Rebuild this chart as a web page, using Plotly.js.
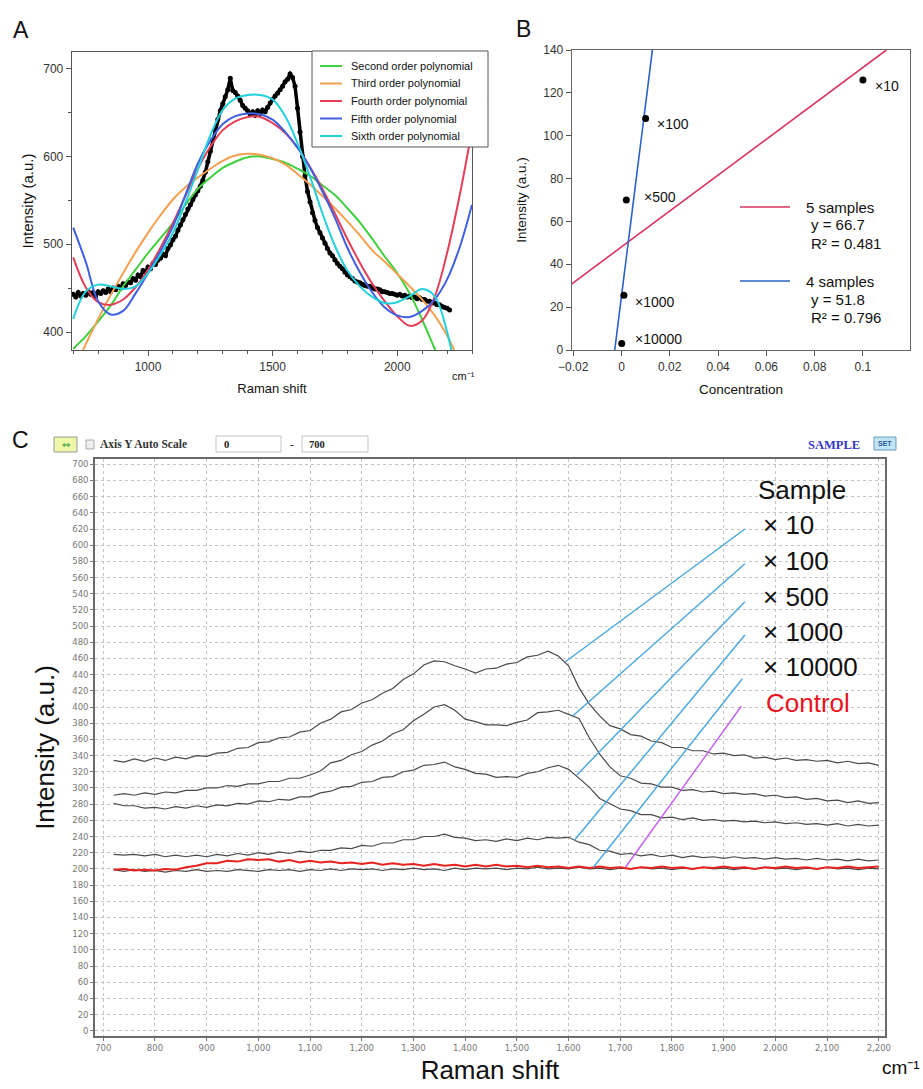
<!DOCTYPE html>
<html><head><meta charset="utf-8">
<script src="https://cdn.plot.ly/plotly-3.0.1.min.js"></script>
<style>body{margin:0;background:#fff}#chart{width:923px;height:1089px}</style>
</head><body><div id="chart"></div>
<script>
// ---------- Panel A data ----------
const ramanA = [700,710,720,730,740,750,760,770,780,790,800,810,820,830,840,850,860,870,880,890,900,910,920,930,940,950,960,970,980,990,1000,1010,1020,1030,1040,1050,1060,1070,1080,1090,1100,1110,1120,1130,1140,1150,1160,1170,1180,1190,1200,1210,1220,1230,1240,1250,1260,1270,1280,1290,1300,1310,1320,1330,1340,1350,1360,1370,1380,1390,1400,1410,1420,1430,1440,1450,1460,1470,1480,1490,1500,1510,1520,1530,1540,1550,1560,1570,1580,1590,1600,1610,1620,1630,1640,1650,1660,1670,1680,1690,1700,1710,1720,1730,1740,1750,1760,1770,1780,1790,1800,1810,1820,1830,1840,1850,1860,1870,1880,1890,1900,1910,1920,1930,1940,1950,1960,1970,1980,1990,2000,2010,2020,2030,2040,2050,2060,2070,2080,2090,2100,2110,2120,2130,2140,2150,2160,2170,2180,2190,2200,2210];
const intensityA = [443,440,445,441,444,442,446,443,445,441,446,444,447,445,449,446,450,448,452,450,455,453,457,456,461,459,465,463,470,468,474,472,478,477,482,484,489,487,495,499,505,509,516,522,528,534,540,545,551,556,561,566,573,582,594,606,619,630,642,652,660,668,676,689,675,673,669,664,658,655,652,648,651,647,652,649,653,651,656,661,665,669,672,676,680,685,688,694,690,680,655,628,600,578,560,548,536,527,519,513,507,501,495,490,487,482,478,475,472,468,465,463,461,458,457,456,454,453,452,452,450,449,449,448,446,446,445,444,444,443,442,443,441,442,440,441,439,440,438,439,437,437,435,435,433,433,431,431,429,428,427,425];
const ramanPoly = [700,750,800,850,900,950,1000,1050,1100,1150,1200,1250,1300,1350,1400,1450,1500,1550,1600,1650,1700,1750,1800,1850,1900,1950,2000,2050,2100,2150,2200,2250,2300];
const poly2 = [381,395,412,430,452,471,490,507,524,545,563,576,587,594,599,600,597,593,586,578,567,556,541,525,506,486,467,444,414,381,345,305,260];
const poly3 = [355,386,415,442,467,491,513,533,551,565,576,586,595,601,603,602,598,591,580,568,555,541,526,510,493,480,466,452,437,419,396,365,325];
const poly4 = [485,451,434,431,437,451,471,496,524,555,586,611,630,640,645,645,638,627,610,588,563,535,506,479,455,435,418,407,413,440,490,555,630];
const poly5 = [519,480,435,420,424,444,467,492,520,556,592,618,637,646,649,648,642,628,610,587,560,530,496,468,445,428,419,417,424,437,460,496,545];
const poly6 = [415,446,454,452,449,452,467,488,513,547,585,624,653,666,670,670,665,646,615,577,535,498,470,452,440,433,434,441,449,441,400,330,240];
const polyNames = ['Second order polynomial','Third order polynomial','Fourth order polynomial','Fifth order polynomial','Sixth order polynomial'];
const polyColors = ['#3fcf3f','#f5a050','#e63e57','#3f5fe0','#22d0dc'];

// ---------- Panel B data ----------
const sampleLabelsB = ['×10','×100','×500','×1000','×10000'];
const concentrationB = [0.1, 0.01, 0.002, 0.001, 0.0001];
const intensityB = [126, 108, 70, 25.5, 3];
const fit5X = [-0.0207, 0.1097];
const fit5Y = [30.8, 140];
const fit4X = [-0.0028, 0.0128];
const fit4Y = [0, 140];
const legendB = [['5 samples','y = 66.7','R² = 0.481'],['4 samples','y = 51.8','R² = 0.796']];

// ---------- Panel C data ----------
const ramanC = [720,740,760,780,800,820,840,860,880,900,920,940,960,980,1000,1020,1040,1060,1080,1100,1120,1140,1160,1180,1200,1220,1240,1260,1280,1300,1320,1340,1360,1380,1400,1420,1440,1460,1480,1500,1520,1540,1560,1580,1600,1620,1640,1660,1680,1700,1720,1740,1760,1780,1800,1820,1840,1860,1880,1900,1920,1940,1960,1980,2000,2020,2040,2060,2080,2100,2120,2140,2160,2180,2200];
const x10 = [334,332,336,333,337,334,338,336,340,339,343,344,349,350,356,357,362,363,369,371,380,385,394,397,405,409,417,423,434,441,452,457,456,451,447,442,447,448,453,455,462,464,469,463,451,424,404,389,377,373,366,364,358,356,350,350,346,346,342,343,340,341,337,338,335,337,334,335,333,334,331,333,330,331,328];
const x100 = [291,293,291,294,292,295,294,297,297,300,300,303,302,305,305,308,308,312,312,316,321,331,334,341,345,353,358,367,372,383,391,400,403,396,385,382,378,378,377,381,384,393,394,396,391,386,362,342,326,315,312,306,305,301,301,297,298,295,296,293,294,292,293,290,291,288,289,286,287,284,285,282,284,281,282];
const x500 = [281,278,278,275,276,274,277,275,278,276,279,278,281,280,284,283,286,285,289,289,294,296,301,302,307,308,313,314,320,322,328,329,332,326,323,318,317,313,314,313,318,320,325,328,323,312,301,287,281,274,272,267,267,263,264,261,263,260,261,259,260,258,259,257,258,256,257,255,256,254,256,253,255,253,254];
const x1000 = [218,217,218,216,218,215,217,215,217,215,218,216,219,217,220,218,221,219,222,220,223,223,226,225,229,228,232,232,236,236,240,240,243,239,238,235,236,234,237,235,238,236,239,238,239,233,230,223,222,218,219,216,218,215,217,214,216,214,215,213,215,213,214,212,214,212,213,211,213,211,212,210,212,210,211];
const x10000 = [199,197,199,197,198,196,198,197,199,197,198,197,199,198,197,199,198,199,197,199,198,200,198,200,199,200,198,200,199,201,199,200,198,201,199,201,200,201,199,201,200,202,200,201,200,202,200,201,199,201,200,202,200,201,199,201,200,202,200,201,199,201,200,202,200,201,199,201,200,202,200,201,199,201,200];
const control = [199,200,198,199,198,200,199,202,204,207,207,210,209,212,211,212,209,211,208,210,208,209,207,208,206,208,205,207,205,206,204,206,204,205,203,205,203,205,203,204,202,204,202,203,201,203,201,203,201,202,200,202,201,203,201,202,200,202,201,203,201,202,200,202,201,203,201,202,200,202,201,203,201,202,203];
const labelsC = ['× 10','× 100','× 500','× 1000','× 10000','Control'];
const calloutCurveX = [1594, 1608, 1616, 1612, 1648, 1710];
const calloutCurveY = [456, 389, 316, 236, 202, 202];
const calloutLabelX = [1941, 1941, 1941, 1941, 1936, 1934];
const calloutLabelY = [620, 577, 530, 489, 435, 401];

// ---------- helpers ----------
const W = 923, H = 1089;
const PX = x => x / W;
const PY = y => 1 - y / H;
const SANS = 'Liberation Sans, Arial, sans-serif';
const SERIF = 'Liberation Serif, Times New Roman, serif';

const traces = [];
// Panel A
traces.push({x: ramanA, y: intensityA, xaxis:'x', yaxis:'y', mode:'lines+markers', type:'scatter',
  line:{color:'#000', width:3.5}, marker:{color:'#000', size:5}, hoverinfo:'skip'});
[poly2, poly3, poly4, poly5, poly6].forEach((p, i) => {
  traces.push({x: ramanPoly, y: p, xaxis:'x', yaxis:'y', mode:'lines', type:'scatter', name: polyNames[i],
    line:{color: polyColors[i], width:2, shape:'spline'}});
});
// Panel B
traces.push({x: fit5X, y: fit5Y, xaxis:'x2', yaxis:'y2', mode:'lines', line:{color:'#d8345f', width:1.6}});
traces.push({x: fit4X, y: fit4Y, xaxis:'x2', yaxis:'y2', mode:'lines', line:{color:'#2d62c6', width:1.6}});
traces.push({x: concentrationB, y: intensityB, xaxis:'x2', yaxis:'y2', mode:'markers', marker:{color:'#000', size:7}});
// Panel C
[x10, x100, x500, x1000, x10000].forEach(s => {
  traces.push({x: ramanC, y: s, xaxis:'x3', yaxis:'y3', mode:'lines', line:{color:'#4a4a4a', width:1.2}});
});
traces.push({x: ramanC, y: control, xaxis:'x3', yaxis:'y3', mode:'lines', line:{color:'#e8221f', width:2}});
// callout lines
labelsC.forEach((l, i) => {
  traces.push({x:[calloutCurveX[i], calloutLabelX[i]], y:[calloutCurveY[i], calloutLabelY[i]], xaxis:'x3', yaxis:'y3',
    mode:'lines', line:{color: i === 5 ? '#c35cf0' : '#45a6df', width:1.4}});
});

const shapes = [];
const annotations = [];
function ann(x, y, text, size, opts) {
  annotations.push(Object.assign({xref:'paper', yref:'paper', x:PX(x), y:PY(y), text:text, showarrow:false,
    xanchor:'center', yanchor:'middle', font:{family:SANS, size:size, color:'#111'}}, opts || {}));
}
function rect(x0, y0, x1, y1, fill, line, lw) {
  shapes.push({type:'rect', xref:'paper', yref:'paper', x0:PX(x0), x1:PX(x1), y0:PY(y1), y1:PY(y0),
    fillcolor:fill, line:{color:line, width:lw === undefined ? 1 : lw}, layer:'above'});
}
function seg(x0, y0, x1, y1, color, w) {
  shapes.push({type:'line', xref:'paper', yref:'paper', x0:PX(x0), x1:PX(x1), y0:PY(y0), y1:PY(y1),
    line:{color:color, width:w}, layer:'above'});
}

// Panel labels
ann(21, 30, 'A', 23);
ann(523, 29, 'B', 23);
ann(20, 440, 'C', 23);

// Panel A extras
ann(464, 376, 'cm⁻¹', 11);
rect(312, 51, 488, 147, '#fff', '#555', 1);
polyNames.forEach((n, i) => {
  const yy = 66 + i * 17.5;
  seg(320, yy, 342, yy, polyColors[i], 2);
  ann(349, yy, n, 11, {xanchor:'left'});
});

// Panel B point labels
const ptLabPos = [[873, 86], [655, 124], [642, 197], [633, 302], [633, 339]];
sampleLabelsB.forEach((l, i) => ann(ptLabPos[i][0], ptLabPos[i][1], l, 14, {xanchor:'left'}));
// Panel B legend
const bColors = ['#d8345f', '#2d62c6'];
const bY = [207, 281];
legendB.forEach((g, i) => {
  seg(740, bY[i], 790, bY[i], bColors[i], 1.6);
  ann(804, bY[i], g[0], 15, {xanchor:'left'});
  ann(809, bY[i] + 18, g[1], 15, {xanchor:'left'});
  ann(809, bY[i] + 36, g[2], 15, {xanchor:'left'});
});

// Panel C toolbar
rect(54, 437, 77, 452, '#eef6a8', '#9a9a9a', 1);
ann(65.5, 444.5, '⇔', 10, {font:{family:'DejaVu Sans', size:10, color:'#2a9a2a'}});
rect(86, 440, 94, 449, '#eeeeee', '#aaaaaa', 1);
ann(98, 444, '<b>Axis Y Auto Scale</b>', 11, {xanchor:'left', font:{family:SERIF, size:11.5, color:'#333'}});
rect(216, 436, 281, 452, '#fff', '#c4c4c4', 1);
ann(222, 444, '<b>0</b>', 10, {xanchor:'left', font:{family:SERIF, size:10.5, color:'#222'}});
ann(292, 444, '<b>-</b>', 10, {font:{family:SERIF, size:11, color:'#222'}});
rect(302, 436, 368, 452, '#fff', '#c4c4c4', 1);
ann(307, 444, '<b>700</b>', 10, {xanchor:'left', font:{family:SERIF, size:10.5, color:'#222'}});
ann(834, 445, '<b>SAMPLE</b>', 12, {font:{family:SERIF, size:12.5, color:'#3434c8'}});
rect(874, 437, 896, 450, '#bfe4f2', '#6a9ac0', 1);
ann(885, 443.5, '<b>SET</b>', 7, {font:{family:SANS, size:7, color:'#2a52a0'}});

// Panel C extras
ann(901, 1067, 'cm⁻¹', 19);
ann(756, 490, 'Sample', 26, {xanchor:'left'});
const cLabY = [525, 561, 597, 632, 667, 703];
labelsC.forEach((l, i) => ann(i === 5 ? 764 : 761, cLabY[i], l, 26,
  {xanchor:'left', font:{family:SANS, size:26, color: i === 5 ? '#e8141e' : '#111'}}));

const axA = {showline:true, mirror:true, linecolor:'#555', linewidth:1.3, ticks:'outside', tickcolor:'#555',
  ticklen:5, showgrid:false, zeroline:false, automargin:false, tickfont:{family:SANS, size:12, color:'#333'}};
const axC = {showline:true, mirror:true, linecolor:'#6a6a6a', linewidth:1.8, ticks:'outside', ticklen:3, tickcolor:'#777',
  showgrid:true, gridcolor:'#c4c4c4', griddash:'dot', gridwidth:1, zeroline:false, automargin:false,
  tickfont:{family:'DejaVu Sans', size:8.5, color:'#777'}};
const layout = {
  width:W, height:H, margin:{l:0, r:0, t:0, b:0}, showlegend:false,
  paper_bgcolor:'#fff', plot_bgcolor:'#fff',
  xaxis: Object.assign({}, axA, {domain:[PX(72), PX(472)], range:[695, 2300], tick0:0, dtick:500, anchor:'y',
    minor:{dtick:100, ticks:'outside', ticklen:3, tickcolor:'#555'},
    title:{text:'Raman shift', font:{family:SANS, size:13, color:'#111'}, standoff:11}}),
  yaxis: Object.assign({}, axA, {domain:[PY(350), PY(52)], range:[379.5, 719], dtick:100, anchor:'x',
    minor:{dtick:50, ticks:'outside', ticklen:3, tickcolor:'#555'},
    title:{text:'Intensity (a.u.)', font:{family:SANS, size:15, color:'#111'}, standoff:6}}),
  xaxis2: Object.assign({}, axA, {domain:[PX(572), PX(910)], range:[-0.0205, 0.1195], tick0:0, dtick:0.02, anchor:'y2', linecolor:'#666',
    title:{text:'Concentration', font:{family:SANS, size:13.5, color:'#111'}, standoff:11}}),
  yaxis2: Object.assign({}, axA, {domain:[PY(350), PY(50)], range:[0, 140], dtick:20, anchor:'x2', linecolor:'#666',
    title:{text:'Intensity (a.u.)', font:{family:SANS, size:13.5, color:'#111'}, standoff:13}}),
  xaxis3: Object.assign({}, axC, {domain:[PX(95), PX(885)], range:[684, 2212], tick0:700, dtick:100, tickformat:',', anchor:'y3',
    title:{text:'Raman shift', font:{family:SANS, size:26, color:'#111'}, standoff:9}}),
  yaxis3: Object.assign({}, axC, {domain:[PY(1036), PY(459)], range:[-6.5, 706.5], tick0:0, dtick:20, anchor:'x3',
    title:{text:'Intensity (a.u.)', font:{family:SANS, size:26, color:'#111'}, standoff:10}}),
  shapes: shapes, annotations: annotations
};
Plotly.newPlot('chart', traces, layout, {staticPlot:true});
</script></body></html>
